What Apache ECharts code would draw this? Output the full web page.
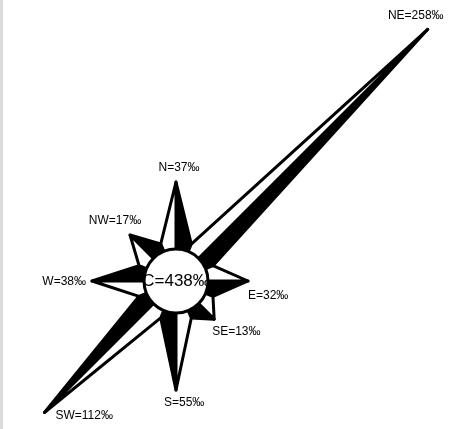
<!DOCTYPE html>
<html>
<head>
<meta charset="utf-8">
<script src="https://cdn.jsdelivr.net/npm/echarts@6/dist/echarts.min.js"></script>
<style>
  html, body { margin: 0; padding: 0; background: #fff; }
  #main { width: 461px; height: 429px; }
</style>
</head>
<body>
<div id="main"></div>
<script>
// wind directions, clockwise from north
var dirs = ['N', 'NE', 'E', 'SE', 'S', 'SW', 'W', 'NW'];
var dirAngle = [0, 45, 90, 135, 180, 225, 270, 315];
// frequency per direction, per mille
var freq = [37, 258, 32, 13, 55, 112, 38, 17];
// spike reach from the centre, as drawn
var spikeLen = [99, 356, 72, 54, 109, 186, 84, 65];
// calm share
var calm = 438;

// label placement per direction (offset from the tip, px)
var labelPos = {
    N:  { dx: 3,   dy: -14, align: 'center' },
    NE: { dx: -12, dy: -14, align: 'center' },
    E:  { dx: 0,   dy: 15,  align: 'left' },
    SE: { dx: -2,  dy: 13,  align: 'left' },
    S:  { dx: -12, dy: 13,  align: 'left' },
    SW: { dx: 11,  dy: 3,   align: 'left' },
    W:  { dx: -6,  dy: 1,   align: 'right' },
    NW: { dx: -15, dy: -14, align: 'center' }
};

var BASE_R = 40;      // where the side points of each spike sit
var HALF = 22.5;      // half opening of a spike, degrees

function pt(r, deg) {
    var a = deg * Math.PI / 180;
    return [r * Math.sin(a), r * Math.cos(a)];
}

var spikeData = dirs.map(function (d, i) {
    return [dirAngle[i], spikeLen[i], freq[i], d];
});

var myChart = echarts.init(document.getElementById('main'));

var option = {
    backgroundColor: '#fff',
    animation: false,
    grid: { left: 0, right: 0, top: 0, bottom: 0 },
    xAxis: { type: 'value', min: -176, max: 285, show: false },
    yAxis: { type: 'value', min: -148, max: 281, show: false },
    graphic: [
        { type: 'rect', left: 0, top: 0, shape: { width: 3, height: 429 }, style: { fill: '#dcdcdc' }, silent: true }
    ],
    series: [
        {
            type: 'custom',
            coordinateSystem: 'cartesian2d',
            data: spikeData,
            renderItem: function (params, api) {
                var ang = api.value(0), len = api.value(1);
                var name = dirs[params.dataIndex];
                var c = api.coord([0, 0]);
                var tip = api.coord(pt(len, ang));
                var left = api.coord(pt(BASE_R, ang - HALF));
                var right = api.coord(pt(BASE_R, ang + HALF));
                var lp = labelPos[name];
                return {
                    type: 'group',
                    children: [
                        {
                            type: 'polygon',
                            shape: { points: [tip, right, c] },
                            style: { fill: '#000', stroke: '#000', lineWidth: 3, lineJoin: 'round' }
                        },
                        {
                            type: 'polygon',
                            shape: { points: [tip, left, c] },
                            style: { fill: '#fff', stroke: '#000', lineWidth: 3, lineJoin: 'round' }
                        },
                        {
                            type: 'text',
                            x: tip[0] + lp.dx,
                            y: tip[1] + lp.dy,
                            style: {
                                text: name + '=' + api.value(2) + '‰',
                                fill: '#000',
                                font: '12px "Liberation Sans", Arial, sans-serif',
                                align: lp.align,
                                verticalAlign: 'middle'
                            }
                        }
                    ]
                };
            },
            z: 2
        },
        {
            type: 'scatter',
            data: [[0, 0]],
            symbol: 'circle',
            symbolSize: 64,
            itemStyle: { color: '#fff', borderColor: '#000', borderWidth: 3, opacity: 1 },
            emphasis: { disabled: true },
            label: {
                show: true,
                position: 'inside',
                formatter: 'C=' + calm + '‰',
                color: '#000',
                fontSize: 17,
                fontFamily: '"Liberation Sans", Arial, sans-serif'
            },
            z: 3
        }
    ]
};

myChart.setOption(option);
</script>
</body>
</html>
